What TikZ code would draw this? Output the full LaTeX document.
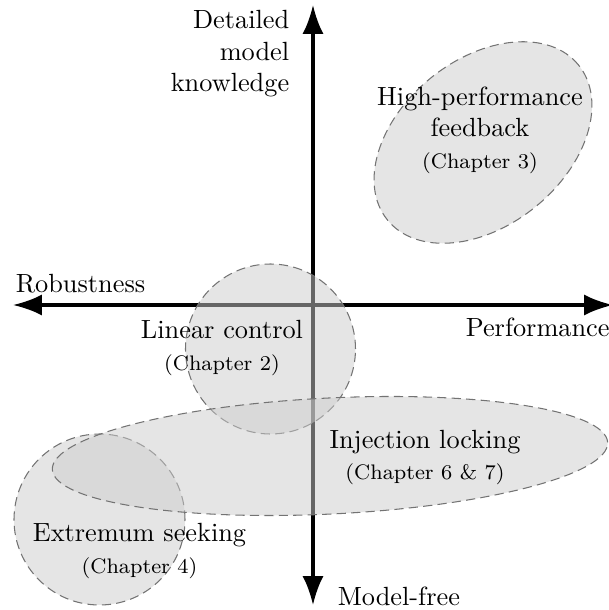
\documentclass[tikz,border=0pt]{standalone}
\usetikzlibrary{arrows.meta}
\begin{document}
\begin{tikzpicture}[x=0.38pt,y=0.38pt,
    axis/.style={line width=1.2pt,{Latex[length=11pt,width=8pt]}-{Latex[length=11pt,width=8pt]}},
    region/.style={draw=black!55,dash pattern=on 3.5pt off 2pt,fill=black!20,fill opacity=0.5},
    label/.style={align=center}]
  \useasboundingbox (-313,-305) rectangle (296,305);

  \coordinate (w) at (-300,0);
  \coordinate (e) at (300,0);
  \coordinate (s) at (0,-300);
  \coordinate (n) at (0,300);
  \draw[axis] (w) -- (e);
  \draw[axis] (s) -- (n);

  \draw[region] (-42.5,-44) circle (85);
  \draw[region] (-213.5,-214.5) circle (85.5);
  \draw[region,rotate around={2.8:(17,-151)}] (17,-151) ellipse (278 and 58);
  \draw[region,rotate around={39:(170,162.5)}] (170,162.5) ellipse (123 and 83);

  \node[anchor=base west] (robust) at (-306.5,13) {Robustness};
  \node[anchor=base west] (perf) at (143.5,-31) {Performance};
  \node[anchor=north east,align=right] (detail) at (-14.5,304) {Detailed\\model\\knowledge};
  \node[anchor=base west] (modelfree) at (15.5,-300) {Model-free};

  \node[label] (linear) at (-91,-43) {Linear control\\{\footnotesize (Chapter 2)}};
  \node[label] (extremum) at (-173.5,-246) {Extremum seeking\\{\footnotesize (Chapter 4)}};
  \node[label] (injection) at (112,-152.5) {Injection locking\\{\footnotesize (Chapter 6 \& 7)}};
  \node[label] (highperf) at (167,175) {High-performance\\feedback\\{\footnotesize (Chapter 3)}};
\end{tikzpicture}
\end{document}
